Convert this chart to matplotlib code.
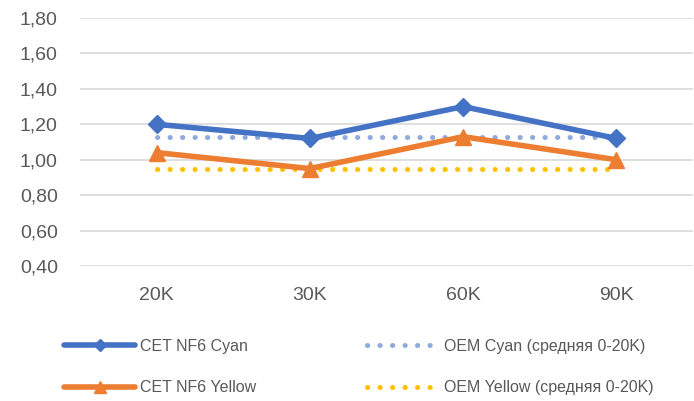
import matplotlib.pyplot as plt
from matplotlib.lines import Line2D

categories = ['20K', '30K', '60K', '90K']
cet_cyan = [1.20, 1.12, 1.30, 1.12]
cet_yellow = [1.04, 0.95, 1.13, 1.00]
oem_cyan = [1.13, 1.13, 1.13, 1.13]
oem_yellow = [0.95, 0.95, 0.95, 0.95]
yticks = [0.40, 0.60, 0.80, 1.00, 1.20, 1.40, 1.60, 1.80]

plt.rcParams['font.family'] = ['Liberation Sans', 'DejaVu Sans']
txt = '#595959'
dots = (0, (0.05, 2.45))

fig = plt.figure(figsize=(6.94, 4.01), dpi=100)
ax = fig.add_axes([80 / 694, 1 - 266 / 401, 613 / 694, 248 / 401])
x = range(len(categories))

ax.plot(x, oem_cyan, color='#8FAADC', lw=3.6, ls=dots, dash_capstyle='round', zorder=2)
ax.plot(x, oem_yellow, color='#FFC000', lw=3.6, ls=dots, dash_capstyle='round', zorder=2)
ax.plot(x, cet_cyan, color='#4472C4', lw=4.0, marker='D', ms=9.5, zorder=3, solid_capstyle='round')
ax.plot(x, cet_yellow, color='#ED7D31', lw=4.0, marker='^', ms=12, zorder=3, solid_capstyle='round')

ax.set_xlim(-0.5, 3.5)
ax.set_ylim(0.4, 1.8)
ax.set_xticks(list(x))
ax.set_xticklabels(categories)
ax.set_yticks(yticks)
ax.set_yticklabels([f'{v:.2f}'.replace('.', ',') for v in yticks])
ax.tick_params(length=0, labelsize=14, colors=txt)
ax.tick_params(axis='y', pad=16)
ax.tick_params(axis='x', pad=15)
ax.grid(axis='y', color='#D9D9D9', lw=1.2)
ax.set_axisbelow(True)
for s in ax.spines.values():
    s.set_visible(False)

h1 = [Line2D([], [], color='#4472C4', lw=4.0, marker='D', ms=6, solid_capstyle='round'),
      Line2D([], [], color='#ED7D31', lw=4.0, marker='^', ms=8, solid_capstyle='round')]
h2 = [Line2D([], [], color='#8FAADC', lw=3.6, ls=dots, dash_capstyle='round'),
      Line2D([], [], color='#FFC000', lw=3.6, ls=dots, dash_capstyle='round')]

common = dict(loc='upper left', frameon=False, borderpad=0, borderaxespad=0,
              labelspacing=1.65, fontsize=11.5, labelcolor=txt)
fig.legend(h1, ['CET NF6 Cyan', 'CET NF6 Yellow'],
           bbox_to_anchor=(64 / 694, 1 - 339 / 401),
           handlelength=4.45, handletextpad=0.3, **common)
fig.legend(h2, ['OEM Cyan (средняя 0-20K)', 'OEM Yellow (средняя 0-20K)'],
           bbox_to_anchor=(367 / 694, 1 - 339 / 401),
           handlelength=4.2, handletextpad=0.6, **common)

fig.savefig('out.png', dpi=100)
